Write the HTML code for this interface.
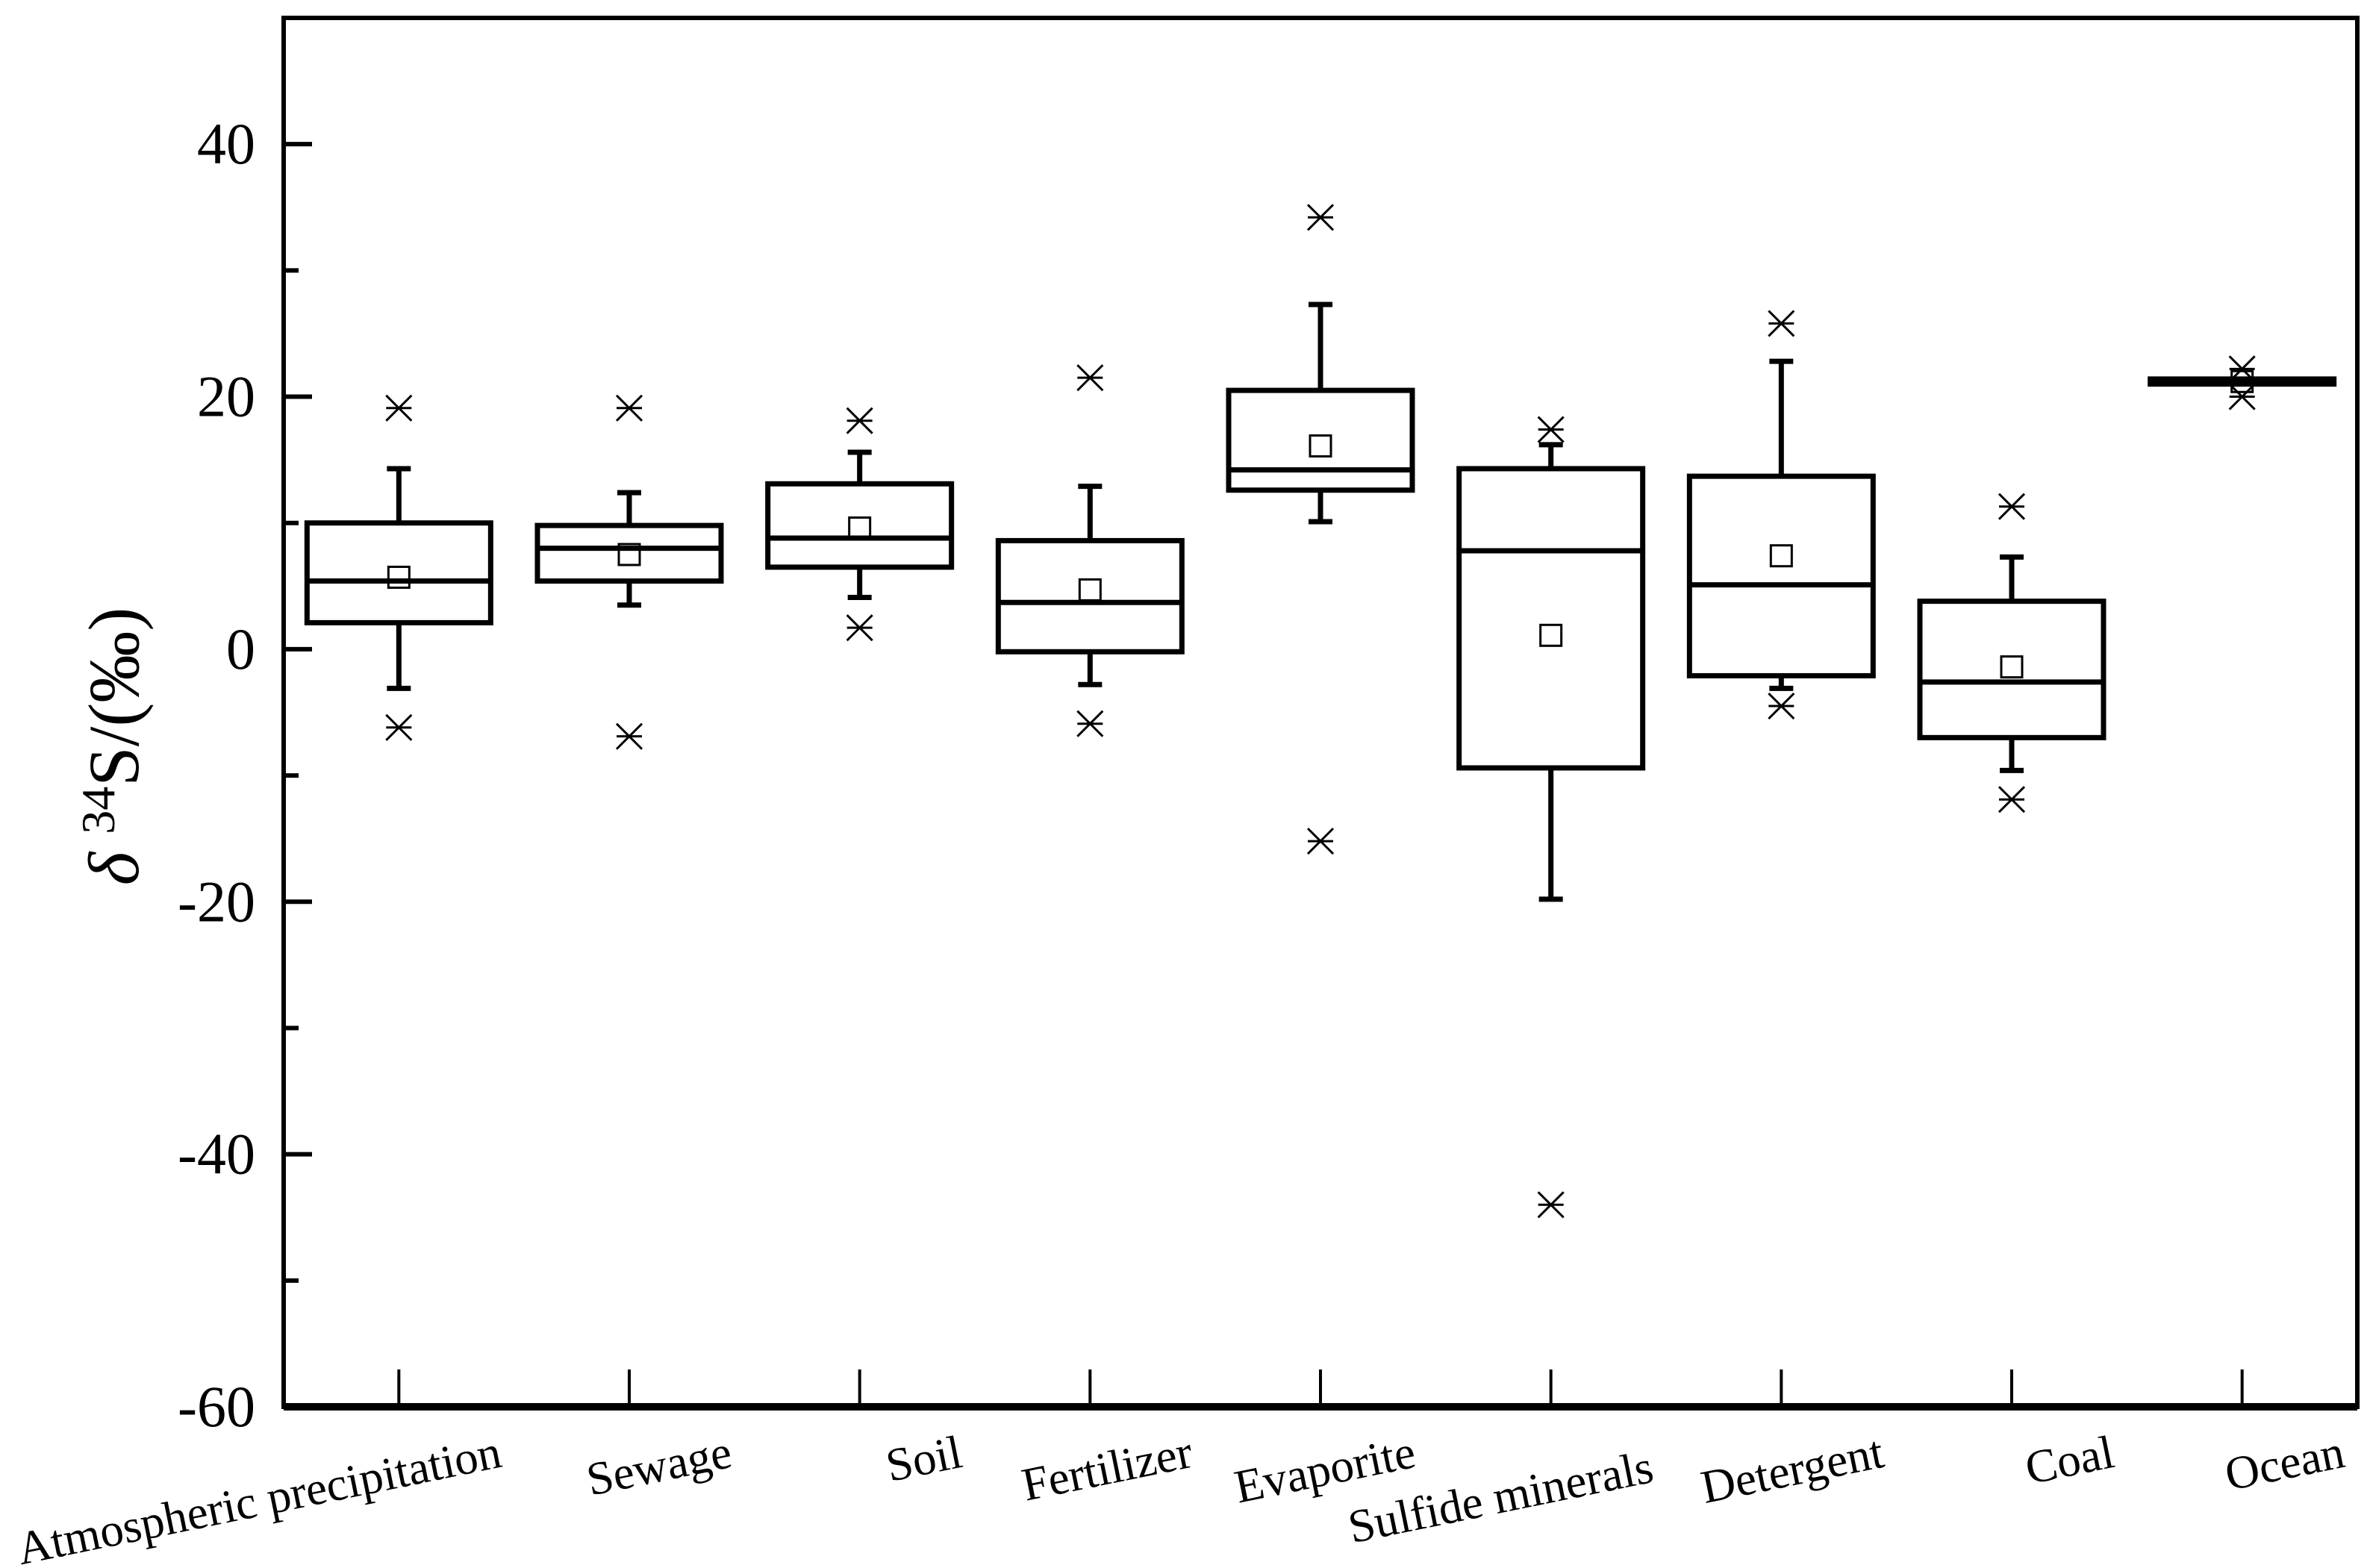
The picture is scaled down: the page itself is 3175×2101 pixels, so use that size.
<!DOCTYPE html>
<html><head><meta charset="utf-8"><style>
html,body{margin:0;padding:0;background:#fff}
svg{display:block;font-family:"Liberation Serif",serif}
</style></head><body>
<svg id="chart" width="3175" height="2101" viewBox="0 0 3175 2101" xmlns="http://www.w3.org/2000/svg">
<g id="plot"></g>
<text transform="translate(185,1000) rotate(-90)" text-anchor="middle" font-size="96"><tspan font-style="italic">δ</tspan> <tspan font-size="64" dy="-32">34</tspan><tspan dy="32">S/(‰)</tspan></text>
</svg>
<script>
const categories = ["Atmospheric precipitation","Sewage","Soil","Fertilizer","Evaporite","Sulfide minerals","Detergent","Coal","Ocean"];
const whiskerHigh = [14.3,12.4,15.6,12.9,27.3,16.2,22.8,7.3,21.3];
const q3 = [10,9.8,13.1,8.6,20.5,14.3,13.7,3.8,21.4];
const median = [5.4,8,8.8,3.7,14.2,7.8,5.1,-2.6,21.2];
const q1 = [2.1,5.4,6.5,-0.2,12.6,-9.4,-2.1,-7,21.0];
const whiskerLow = [-3.1,3.5,4.1,-2.8,10.1,-19.8,-3.1,-9.6,21.1];
const means = [5.7,7.5,9.6,4.7,16.1,1.1,7.4,-1.4,21.2];
const outHigh = [19.1,19.1,18.1,21.5,34.2,17.4,25.8,11.3,22.2];
const outLow = [-6.2,-6.9,1.7,-5.9,-15.2,-44,-4.5,-11.9,20];
const yTicks = [-60,-40,-20,0,20,40];
const yMinor = [-50,-30,-10,10,30];

const L=380,R=3158,T=24,B=1885;
const yMin=-60,yMax=50;
const y = v => B-(v-yMin)/(yMax-yMin)*(B-T);
const x = i => L+(i+0.5)/9*(R-L);
const NS="http://www.w3.org/2000/svg";
const g=document.getElementById('plot');
function mk(tag,attrs,parent){const e=document.createElementNS(NS,tag);for(const k in attrs)e.setAttribute(k,attrs[k]);(parent||g).appendChild(e);return e;}

let ax=mk('rect',{x:L,y:T,width:R-L,height:B-T,fill:'none',stroke:'#000','stroke-width':6});


let xb=mk('line',{x1:L,y1:B,x2:R,y2:B,stroke:'#000','stroke-width':10});



yTicks.forEach(v=>{
  const t=mk('line',{x1:L,y1:y(v),x2:L+38,y2:y(v),stroke:'#000','stroke-width':6});
  
  
  const lb=mk('text',{x:L-38,y:y(v)+26,'text-anchor':'end','font-size':78});
  lb.textContent=v;
  
  
});
yMinor.forEach(v=>{
  const t=mk('line',{x1:L,y1:y(v),x2:L+20,y2:y(v),stroke:'#000','stroke-width':6});
  
  
});

categories.forEach((c,i)=>{
  const cx=x(i);
  const t=mk('line',{x1:cx,y1:B,x2:cx,y2:B-50,stroke:'#000','stroke-width':4});
  
  
  const lb=mk('text',{x:0,y:0,'text-anchor':'end','font-size':63,transform:`translate(${cx+140+(i==4?-10:0)},${1965+(i==5?20:0)}) rotate(-11.5)`});
  lb.textContent=c;
  
  

  const grp=mk('g',{});
  
  
  const hw=123, cw=16;
  mk('line',{x1:cx,y1:y(whiskerHigh[i]),x2:cx,y2:y(q3[i]),stroke:'#000','stroke-width':7},grp);
  mk('line',{x1:cx,y1:y(whiskerLow[i]),x2:cx,y2:y(q1[i]),stroke:'#000','stroke-width':7},grp);
  mk('line',{x1:cx-cw,y1:y(whiskerHigh[i]),x2:cx+cw,y2:y(whiskerHigh[i]),stroke:'#000','stroke-width':7},grp);
  mk('line',{x1:cx-cw,y1:y(whiskerLow[i]),x2:cx+cw,y2:y(whiskerLow[i]),stroke:'#000','stroke-width':7},grp);
  mk('rect',{x:cx-hw,y:y(q3[i]),width:2*hw,height:Math.max(1,y(q1[i])-y(q3[i])),fill:'none',stroke:'#000','stroke-width':7},grp);
  mk('line',{x1:cx-hw,y1:y(median[i]),x2:cx+hw,y2:y(median[i]),stroke:'#000','stroke-width':7},grp);
  const m=mk('rect',{x:cx-14,y:y(means[i])-14,width:28,height:28,fill:'none',stroke:'#000','stroke-width':3},grp);
  
  
  [outHigh[i],outLow[i]].forEach(v=>{
    const s=17,py=y(v);
    const o=mk('path',{d:`M${cx-s},${py-s}L${cx+s},${py+s}M${cx-s},${py+s}L${cx+s},${py-s}M${cx-s},${py}L${cx+s},${py}`,stroke:'#000','stroke-width':3,fill:'none'},grp);
    
    
  });
});
</script>
</body></html>
